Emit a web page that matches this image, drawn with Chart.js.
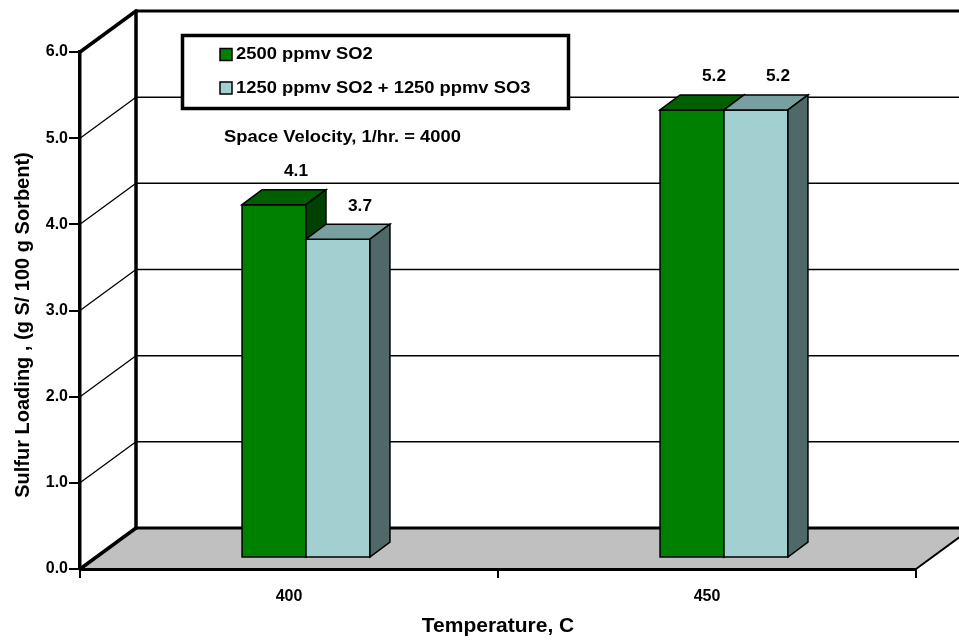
<!DOCTYPE html>
<html>
<head>
<meta charset="utf-8">
<script src="https://cdn.jsdelivr.net/npm/chart.js@4.4.0/dist/chart.umd.min.js"></script>
<style>
    html, body { margin: 0; padding: 0; background: #fff; }
</style>
</head>
<body>
<canvas id="sulfurChart" width="959" height="640"></canvas>
<script>
// Data
const temperatures = ['400', '450'];
const so2Only = [4.1, 5.2];
const so2PlusSo3 = [3.7, 5.2];
const seriesNames = ['2500 ppmv SO2', '1250 ppmv SO2 + 1250 ppmv SO3'];
const noteText = 'Space Velocity, 1/hr. = 4000';
const yTitle = 'Sulfur Loading , (g S/ 100 g Sorbent)';

const FONT = 'Arial, "Liberation Sans", sans-serif';
// front, top, side
const greenFaces = ['#008000', '#005f00', '#004000'];
const blueFaces = ['#a2d0d0', '#78a0a0', '#506868'];

const WALL = { x: 56, y: -41 };       // depth of the box
const BAR_OFF = { x: 17, y: -11 };    // where bar fronts sit inside the box
const BAR_DEPTH = { x: 20, y: -15 };

function line(ctx, x1, y1, x2, y2, w) {
    ctx.lineWidth = w;
    ctx.beginPath();
    ctx.moveTo(x1, y1);
    ctx.lineTo(x2, y2);
    ctx.stroke();
}

function poly(ctx, pts, fill) {
    ctx.beginPath();
    pts.forEach((p, i) => i ? ctx.lineTo(p[0], p[1]) : ctx.moveTo(p[0], p[1]));
    ctx.closePath();
    ctx.fillStyle = fill;
    ctx.fill();
    ctx.stroke();
}

// original text is a bit wide, stretch it a little
function wideText(ctx, s, x, y) {
    ctx.save();
    ctx.translate(x, y);
    ctx.scale(1.08, 1);
    ctx.fillText(s, 0, 0);
    ctx.restore();
}

// Back wall, side wall and floor
const walls = {
    id: 'walls',
    beforeDraw(chart) {
        const { ctx, chartArea: a, scales: { y } } = chart;
        const W = chart.width;
        ctx.save();
        ctx.strokeStyle = '#000';
        ctx.lineCap = 'round';
        ctx.fillStyle = '#c0c0c0';
        ctx.beginPath();
        ctx.moveTo(a.left, a.bottom);
        ctx.lineTo(a.right, a.bottom);
        ctx.lineTo(a.right + WALL.x, a.bottom + WALL.y);
        ctx.lineTo(a.left + WALL.x, a.bottom + WALL.y);
        ctx.closePath();
        ctx.fill();
        line(ctx, a.right, a.bottom, a.right + WALL.x, a.bottom + WALL.y, 2);

        y.ticks.forEach(t => {
            const py = y.getPixelForValue(t.value);
            const edge = t.value === y.min || t.value === y.max;
            line(ctx, a.left, py, a.left + WALL.x, py + WALL.y, edge ? 3.5 : 1.3);
            line(ctx, a.left + WALL.x, py + WALL.y, W + 5, py + WALL.y, edge ? 3 : 1.5);
        });
        line(ctx, a.left + WALL.x, y.getPixelForValue(y.max) + WALL.y,
             a.left + WALL.x, a.bottom + WALL.y, 3.5);
        ctx.restore();
    }
};

// 3D boxes for the bars, plus value labels
const bars3d = {
    id: 'bars3d',
    beforeDatasetsDraw(chart) {
        const { ctx } = chart;
        const sets = chart.data.datasets;
        ctx.save();
        ctx.strokeStyle = '#000';
        ctx.lineWidth = 1.5;
        for (let i = 0; i < chart.data.labels.length; i++) {
            sets.forEach((ds, d) => {
                const el = chart.getDatasetMeta(d).data[i];
                const f = ds.faces;
                const l = el.x - el.width / 2 + BAR_OFF.x;
                const r = el.x + el.width / 2 + BAR_OFF.x;
                const t = el.y + BAR_OFF.y;
                const b = el.base + BAR_OFF.y;
                const dx = BAR_DEPTH.x, dy = BAR_DEPTH.y;
                poly(ctx, [[l, t], [r, t], [r, b], [l, b]], f[0]);
                poly(ctx, [[l, t], [l + dx, t + dy], [r + dx, t + dy], [r, t]], f[1]);
                poly(ctx, [[r, t], [r + dx, t + dy], [r + dx, b + dy], [r, b]], f[2]);
            });
        }
        ctx.fillStyle = '#000';
        ctx.font = 'bold 16px ' + FONT;
        ctx.textAlign = 'center';
        ctx.textBaseline = 'middle';
        sets.forEach((ds, d) => {
            chart.getDatasetMeta(d).data.forEach((el, i) => {
                wideText(ctx, ds.data[i].toFixed(1), el.x + BAR_OFF.x + 22, el.y + BAR_OFF.y - 33);
            });
        });
        ctx.restore();
        return false;
    }
};

// Boxed legend, the note under it, and the y title
const legendBox = {
    id: 'legendBox',
    afterDraw(chart) {
        const { ctx } = chart;
        const sets = chart.data.datasets;
        ctx.save();
        ctx.fillStyle = '#fff';
        ctx.strokeStyle = '#000';
        ctx.lineWidth = 3.5;
        ctx.fillRect(182.5, 35.5, 386, 73);
        ctx.strokeRect(182.5, 35.5, 386, 73);

        ctx.lineWidth = 1.5;
        ctx.font = 'bold 17px ' + FONT;
        ctx.textBaseline = 'middle';
        ctx.textAlign = 'left';
        sets.forEach((ds, d) => {
            const cy = 54.5 + d * 33.5;
            ctx.fillStyle = ds.faces[0];
            ctx.fillRect(220, cy - 6, 12, 12);
            ctx.strokeRect(220, cy - 6, 12, 12);
            ctx.fillStyle = '#000';
            wideText(ctx, ds.label, 236, cy);
        });
        wideText(ctx, noteText, 224, 137);

        ctx.translate(23, 325);
        ctx.rotate(-Math.PI / 2);
        ctx.textAlign = 'center';
        ctx.font = 'bold 20px ' + FONT;
        ctx.fillText(yTitle, 0, 0);
        ctx.restore();
    }
};

new Chart(document.getElementById('sulfurChart'), {
    type: 'bar',
    data: {
        labels: temperatures,
        datasets: [
            { label: seriesNames[0], data: so2Only, backgroundColor: greenFaces[0], faces: greenFaces },
            { label: seriesNames[1], data: so2PlusSo3, backgroundColor: blueFaces[0], faces: blueFaces }
        ]
    },
    options: {
        responsive: false,
        animation: false,
        layout: { padding: { top: 52, right: 43, bottom: 0, left: 0 } },
        datasets: { bar: { categoryPercentage: 0.306, barPercentage: 1 } },
        plugins: {
            legend: { display: false },
            tooltip: { enabled: false }
        },
        scales: {
            x: {
                grid: { offset: true, drawOnChartArea: false, color: '#000', tickLength: 9, lineWidth: 2 },
                border: { color: '#000', width: 3 },
                ticks: { color: '#000', padding: 9, maxRotation: 0, font: { family: FONT, size: 16, weight: 'bold' } },
                title: {
                    display: true,
                    text: 'Temperature, C',
                    color: '#000',
                    font: { family: FONT, size: 21, weight: 'bold' },
                    padding: { top: 0, bottom: 1 }
                },
                afterFit(s) { s.height = 71; }
            },
            y: {
                min: 0,
                max: 6,
                ticks: {
                    stepSize: 1,
                    color: '#000',
                    padding: 1,
                    font: { family: FONT, size: 16, weight: 'bold' },
                    callback: v => v.toFixed(1)
                },
                grid: { drawOnChartArea: false, color: '#000', tickLength: 11, lineWidth: 2 },
                border: { color: '#000', width: 3.5 },
                afterFit(s) { s.width = 80; }
            }
        }
    },
    plugins: [walls, bars3d, legendBox]
});
</script>
</body>
</html>
